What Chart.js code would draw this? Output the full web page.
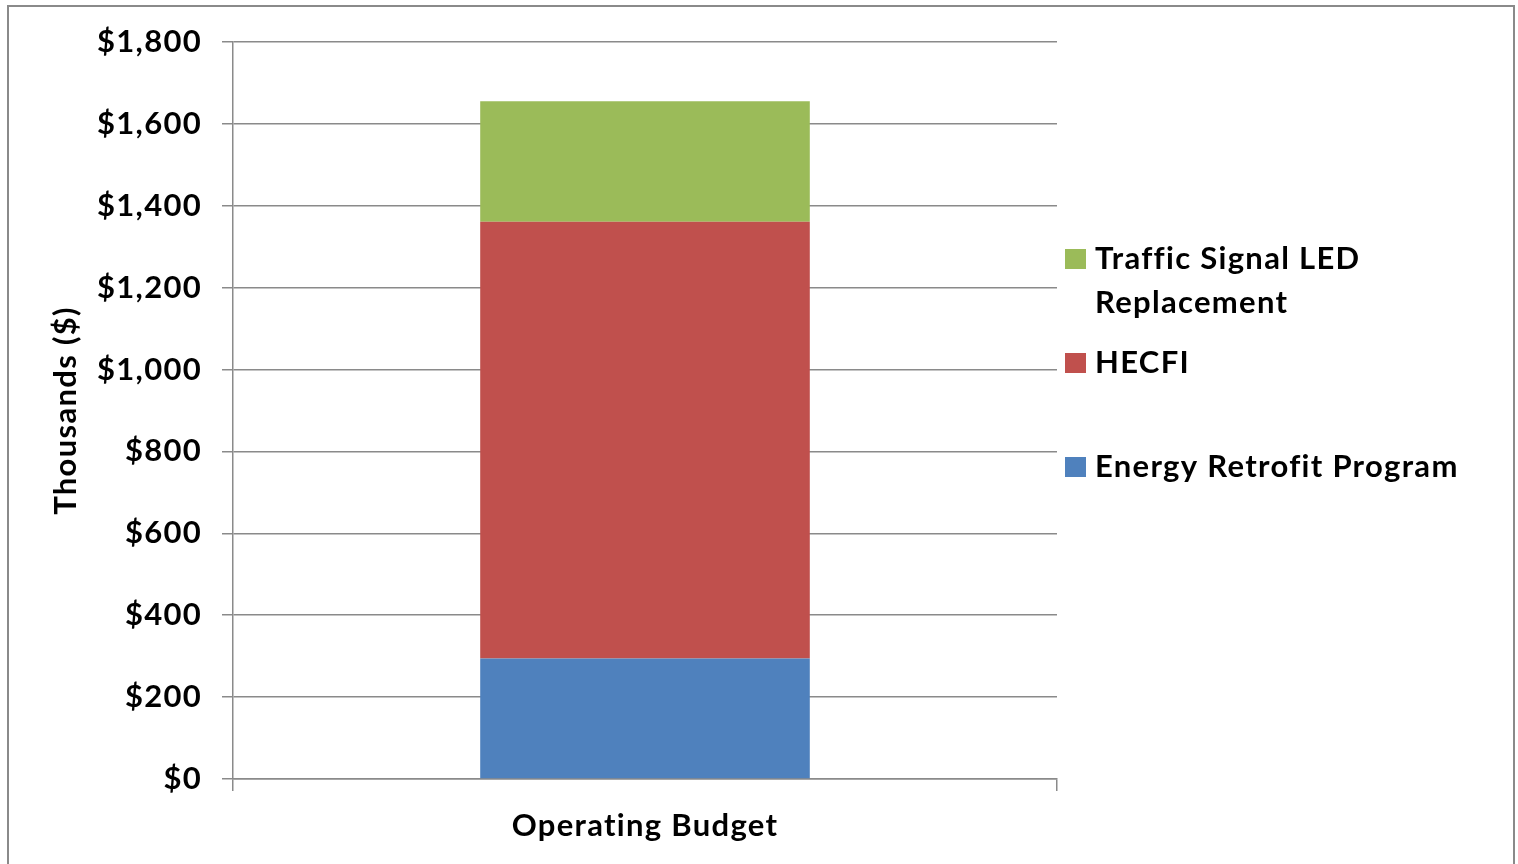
<!DOCTYPE html>
<html>
<head>
<meta charset="utf-8">
<script src="https://cdn.jsdelivr.net/npm/chart.js@4.4.1/dist/chart.umd.min.js"></script>
<style>
  html, body { margin: 0; padding: 0; background: #fff; overflow: hidden; }
  #wrap { position: relative; width: 1518px; height: 864px; }
  #frame { position: absolute; left: 7px; top: 5px; width: 1508px; height: 880px; border: 2px solid #8a8a8a; box-sizing: border-box; pointer-events: none; }
  canvas { position: absolute; left: 0; top: 0; }
</style>
</head>
<body>
<div id="wrap">
  <canvas id="myChart" width="1518" height="864"></canvas>
  <div id="frame"></div>
</div>
<script>
// dados (milhares de $)
const categories = ['Operating Budget'];
const energyRetrofit = [294];
const hecfi = [1067];
const trafficLed = [294];

const yMin = 0;
const yMax = 1800;
const yStep = 200;

const seriesNames = ['Energy Retrofit Program', 'HECFI', 'Traffic Signal LED Replacement'];
const legendLines = [['Energy Retrofit Program'], ['HECFI'], ['Traffic Signal LED', 'Replacement']];
const legendCenters = [467, 363, 259];

const gridColor = '#8a8a8a';
const textColor = '#000';
const fontFamily = 'Lato, "Liberation Sans", sans-serif';
const fontSize = 31;
const spacing = '1.3px';

const ctx = document.getElementById('myChart').getContext('2d');

// espaçamento entre letras (parecido com o Calibri do original)
const wideText = {
  id: 'wideText',
  beforeUpdate(chart) { chart.ctx.letterSpacing = spacing; },
  beforeDraw(chart) { chart.ctx.letterSpacing = spacing; }
};

// legenda desenhada à mão (rótulo em duas linhas)
const sideLegend = {
  id: 'sideLegend',
  afterDraw(chart) {
    const c = chart.ctx;
    c.save();
    c.letterSpacing = spacing;
    c.font = 'bold ' + fontSize + 'px ' + fontFamily;
    c.textBaseline = 'middle';
    c.textAlign = 'left';
    chart.data.datasets.forEach((ds, i) => {
      const cy = legendCenters[i];
      c.fillStyle = ds.backgroundColor;
      c.fillRect(1065, cy - 10, 21, 20);
      c.fillStyle = textColor;
      legendLines[i].forEach((line, j) => {
        c.fillText(line, 1095, cy + j * 44);
      });
    });
    c.restore();
  }
};

const data = {
  labels: categories,
  datasets: [
    { label: seriesNames[0], data: energyRetrofit, backgroundColor: '#4F81BD' },
    { label: seriesNames[1], data: hecfi, backgroundColor: '#C0504D' },
    { label: seriesNames[2], data: trafficLed, backgroundColor: '#9BBB59' }
  ]
};

const config = {
  type: 'bar',
  data: data,
  options: {
    responsive: false,
    animation: false,
    events: [],
    layout: {
      padding: { left: 0, top: 42, right: 461, bottom: 0 }
    },
    datasets: {
      bar: { categoryPercentage: 1, barPercentage: 0.4 }
    },
    plugins: {
      legend: { display: false },
      tooltip: { enabled: false }
    },
    scales: {
      x: {
        stacked: true,
        afterFit: (scale) => { scale.height = 85; },
        grid: {
          offset: true,
          drawOnChartArea: false,
          drawTicks: true,
          tickLength: 12,
          color: gridColor,
          lineWidth: 1.5
        },
        border: { display: true, color: gridColor, width: 1.5 },
        ticks: {
          color: textColor,
          padding: 16,
          font: { family: fontFamily, size: fontSize, weight: 'bold' }
        }
      },
      y: {
        stacked: true,
        min: yMin,
        max: yMax,
        afterFit: (scale) => { scale.width = 233; },
        ticks: {
          stepSize: yStep,
          color: textColor,
          padding: 20,
          font: { family: fontFamily, size: fontSize, weight: 'bold' },
          callback: (v) => '$' + v.toLocaleString('en-US')
        },
        grid: {
          color: gridColor,
          lineWidth: 1.5,
          tickLength: 11
        },
        border: { display: true, color: gridColor, width: 1.5 },
        title: {
          display: true,
          text: 'Thousands ($)',
          color: textColor,
          padding: { top: 47, bottom: 0 },
          font: { family: fontFamily, size: fontSize, weight: 'bold' }
        }
      }
    }
  },
  plugins: [wideText, sideLegend]
};

new Chart(ctx, config);
</script>
</body>
</html>
